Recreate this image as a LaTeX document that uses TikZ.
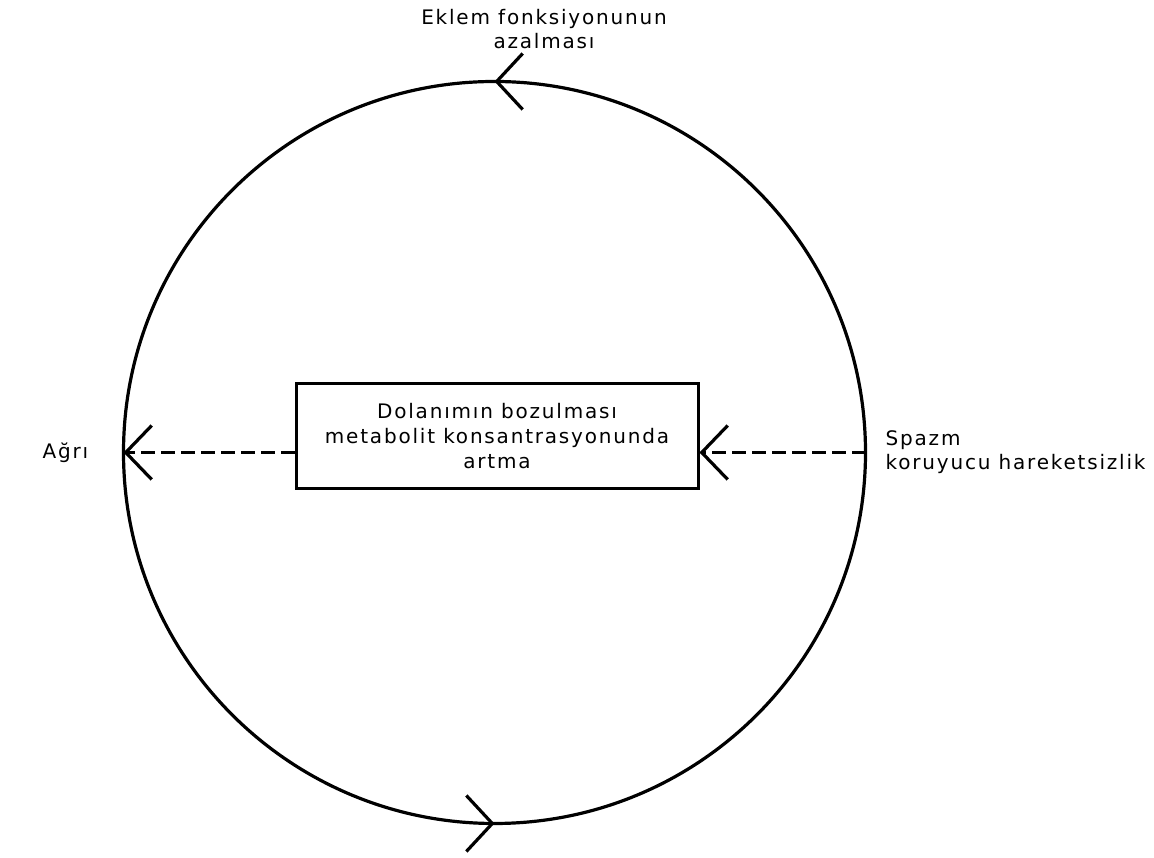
\documentclass[tikz,border=0pt]{standalone}
\usepackage{fontspec}
\setmainfont{DejaVu Sans}[LetterSpace=9]
\usetikzlibrary{arrows.meta, positioning, decorations.markings}

\begin{document}
\begin{tikzpicture}[x=1pt, y=1pt, node distance=20pt,
  lbl/.style={font=\fontsize{20}{24}\selectfont, inner sep=0pt},
  boxed/.style={draw, line width=3pt, minimum width=402pt, minimum height=105pt,
                align=center, font=\fontsize{20}{25}\selectfont},
  loop/.style={line width=3.2pt},
  flow/.style={line width=2.6pt, dash pattern=on 14pt off 6pt},
  barb/.style={-{Straight Barb[length=26pt, width=54pt, line width=3.2pt]}},
  turning/.style={postaction={decorate}, decoration={markings,
      mark=at position 0.25 with {\arrow{Straight Barb[length=26pt, width=56pt]}},
      mark=at position 0.75 with {\arrow{Straight Barb[length=26pt, width=56pt]}}}}]

  \useasboundingbox (0,0) rectangle (1154,858);

  \coordinate (ctr) at (494.5,405.5);
  \coordinate (l) at (123.5,405.5);
  \coordinate (r) at (865.5,405.5);

  % vicious circle
  \draw[loop, turning] (ctr) circle[radius=371];

  \node[boxed] (box) at (497,421.5) {Dolanımın bozulması\\metabolit konsantrasyonunda\\artma};

  \draw[flow, barb] (box.west |- ctr) -- (l);
  \draw[flow, barb] (r) -- (box.east |- ctr);

  % labels
  \node[lbl, left=35pt of l] (agri) {Ağrı};
  \node[lbl, right=20pt of r, align=left] (spazm) {Spazm\\koruyucu hareketsizlik};
  \node[lbl, align=center] (eklem) at (544,829) {Eklem fonksiyonunun\\azalması};
\end{tikzpicture}
\end{document}
